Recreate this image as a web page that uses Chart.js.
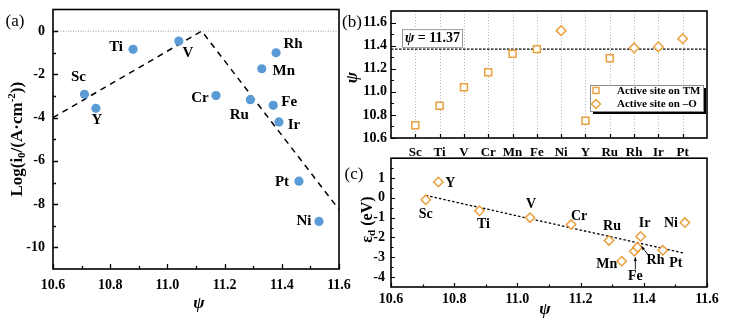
<!DOCTYPE html>
<html>
<head>
<meta charset="utf-8">
<script src="https://cdn.jsdelivr.net/npm/chart.js@4.4.1/dist/chart.umd.min.js"></script>
<style>
  html, body { margin: 0; padding: 0; background: #fff; }
  #wrap { position: relative; width: 733px; height: 327px; overflow: hidden; background: #fff; }
  canvas { position: absolute; }
</style>
</head>
<body>
<div id="wrap">
  <canvas id="panelA" width="365" height="327" style="left:0;top:0"></canvas>
  <canvas id="panelB" width="393" height="158" style="left:340px;top:0"></canvas>
  <canvas id="panelC" width="393" height="177" style="left:340px;top:150px"></canvas>
</div>
<script>
// Transition-metal dopants, in the order of the category axis of (b)
const elements = ['Sc', 'Ti', 'V', 'Cr', 'Mn', 'Fe', 'Ni', 'Y', 'Ru', 'Rh', 'Ir', 'Pt'];
// descriptor ψ of each dopant
const psi = [10.71, 10.88, 11.04, 11.17, 11.33, 11.37, 11.53, 10.75, 11.29, 11.38, 11.39, 11.46];
// log of the exchange current density, log(i0 / (A·cm^-2))
const logI0 = [-2.92, -0.84, -0.46, -2.98, -1.74, -3.43, -8.80, -3.57, -3.17, -1.00, -4.20, -6.94];
// d-band centre εd (eV)
const epsD = [-0.10, -0.65, -1.00, -1.35, -3.20, -2.70, -1.25, 0.80, -2.15, -2.50, -1.95, -2.65];
// dopants whose active site is the lattice oxygen (the rest sit on the TM)
const oxygenSite = ['Ni', 'Rh', 'Ir', 'Pt'];
// volcano guide of (a)
const volcanoPsi = [10.60, 11.12, 11.60];
const volcanoLog = [-4.00, 0.00, -8.25];
// linear trend of (c)
const trendPsi = [10.71, 11.53];
const trendEps = [0.12, -2.80];
// optimum ψ of (b) and the zero level of (a)
const psiThreshold = 11.37;
const zeroLevel = 0;
// tick labels
const psiTicks = [10.6, 10.8, 11.0, 11.2, 11.4, 11.6];
const logTicks = [0, -2, -4, -6, -8, -10];
const psiLevelTicks = [10.6, 10.8, 11.0, 11.2, 11.4, 11.6];
const epsTicks = [1, 0, -1, -2, -3, -4];

// ---- styling ----
const SERIF = "'Liberation Serif', 'Times New Roman', serif";
const BLUE = 'rgb(91,155,213)';
const ORANGE = 'rgb(234,160,62)';
const labelPosA = { Sc: [-6, -17], Ti: [-17, -2], V: [9, 12], Cr: [-16, 3], Mn: [22, 2], Fe: [16, -3],
                    Ni: [-15, 0], Y: [1, 12], Ru: [-11, 15], Rh: [17, -9], Ir: [15, 3], Pt: [-17, 1] };
const labelPosC = { Sc: [0, 15], Ti: [4, 14], V: [1, -13], Cr: [8, -8], Mn: [-15, 3], Fe: [1, 25],
                    Ni: [-14, 1], Y: [12, 1], Ru: [3, -14], Rh: [18, 13], Ir: [4, -13], Pt: [13, 13] };
const arrowsC = { Fe: [[1, 18], [1, 6]], Rh: [[11, 8], [4, -1]] };

function stepValues(from, to, step) {
  const out = [];
  const n = Math.round((to - from) / step);
  for (let k = 0; k <= n; k++) out.push(+(from + k * step).toFixed(4));
  return out;
}

function axis(pos, min, max, ticks, fmt, size, pad, fontSize) {
  return {
    type: 'linear', position: pos, min: min, max: max,
    grid: { display: false, drawTicks: false },
    border: { display: false },
    afterBuildTicks: s => { s.ticks = ticks.map(v => ({ value: v })); },
    afterFit: s => {
      if (pos === 'bottom') s.height = size; else s.width = size;
      // the frame sets the plot area, not the label overhang
      s.paddingTop = 0; s.paddingBottom = 0; s.paddingLeft = 0; s.paddingRight = 0;
    },
    ticks: { autoSkip: false, maxRotation: 0, minRotation: 0, padding: pad, color: '#000',
             font: { family: SERIF, weight: 'bold', size: fontSize }, callback: fmt }
  };
}

function inwardTicks(ctx, chart, id, values, len) {
  const a = chart.chartArea, s = chart.scales[id];
  ctx.beginPath();
  values.forEach(v => {
    const p = Math.round(s.getPixelForValue(v)) + 0.5;
    if (id === 'x') { ctx.moveTo(p, a.bottom); ctx.lineTo(p, a.bottom - len); }
    else { ctx.moveTo(a.left, p); ctx.lineTo(a.left + len, p); }
  });
  ctx.stroke();
}

function frame(ctx, chart) {
  const a = chart.chartArea;
  ctx.strokeStyle = '#000';
  ctx.lineWidth = 1.6;
  ctx.strokeRect(a.left, a.top, a.right - a.left, a.bottom - a.top);
}

// text made of several runs (sub/superscripts), centred on (x, y)
function richText(ctx, parts, x, y, angle) {
  ctx.save();
  ctx.translate(x, y);
  ctx.rotate(angle || 0);
  ctx.textAlign = 'left';
  ctx.textBaseline = 'middle';
  ctx.fillStyle = '#000';
  let total = 0;
  parts.forEach(p => { ctx.font = p.font; p.w = ctx.measureText(p.t).width; total += p.w; });
  let cx = -total / 2;
  parts.forEach(p => { ctx.font = p.font; ctx.fillText(p.t, cx, p.dy || 0); cx += p.w; });
  ctx.restore();
}

function pointLabels(ctx, chart, xs, ys, pos, size) {
  const sx = chart.scales.x, sy = chart.scales.y;
  ctx.fillStyle = '#000';
  ctx.font = 'bold ' + size + 'px ' + SERIF;
  ctx.textAlign = 'center';
  ctx.textBaseline = 'middle';
  elements.forEach((el, i) => {
    const px = sx.getPixelForValue(xs[i]), py = sy.getPixelForValue(ys[i]);
    const o = pos[el];
    ctx.fillText(el, px + o[0], py + o[1]);
  });
}

function arrow(ctx, x1, y1, x2, y2) {
  const ang = Math.atan2(y2 - y1, x2 - x1), h = 4;
  ctx.strokeStyle = '#000';
  ctx.fillStyle = '#000';
  ctx.lineWidth = 0.9;
  ctx.beginPath(); ctx.moveTo(x1, y1); ctx.lineTo(x2, y2); ctx.stroke();
  ctx.beginPath();
  ctx.moveTo(x2, y2);
  ctx.lineTo(x2 - h * Math.cos(ang - 0.4), y2 - h * Math.sin(ang - 0.4));
  ctx.lineTo(x2 - h * Math.cos(ang + 0.4), y2 - h * Math.sin(ang + 0.4));
  ctx.closePath(); ctx.fill();
}

function decor(name, under, over) {
  return {
    id: 'decor' + name,
    beforeDatasetsDraw(chart) { if (under) { chart.ctx.save(); under(chart.ctx, chart); chart.ctx.restore(); } },
    afterDatasetsDraw(chart) { chart.ctx.save(); over(chart.ctx, chart); chart.ctx.restore(); }
  };
}

const common = {
  responsive: false,
  animation: false,
  events: [],
  plugins: { legend: { display: false }, tooltip: { enabled: false } }
};

// ---------- (a) volcano: log(i0) versus ψ ----------
new Chart(document.getElementById('panelA'), {
  type: 'scatter',
  data: {
    datasets: [
      { data: psi.map((x, i) => ({ x: x, y: logI0[i] })), pointStyle: 'circle', pointRadius: 4.6,
        backgroundColor: BLUE, borderWidth: 0, order: 0 },
      { data: volcanoPsi.map((x, i) => ({ x: x, y: volcanoLog[i] })), showLine: true, pointRadius: 0,
        borderColor: '#000', borderWidth: 1.5, borderDash: [6, 5], fill: false, order: 1 }
    ]
  },
  options: Object.assign({}, common, {
    layout: { padding: { left: 0, top: 9.5, right: 26, bottom: 0 } },
    scales: {
      x: axis('bottom', 10.6, 11.6, psiTicks, v => v.toFixed(1), 58, 8, 14),
      y: axis('left', -11, 1, logTicks, v => String(v), 53, 8, 14)
    }
  }),
  plugins: [decor('A',
    (ctx, chart) => {
      const a = chart.chartArea, y0 = chart.scales.y.getPixelForValue(zeroLevel);
      ctx.strokeStyle = '#999'; ctx.lineWidth = 1; ctx.setLineDash([1, 1.5]);
      ctx.beginPath(); ctx.moveTo(a.left, y0); ctx.lineTo(a.right, y0); ctx.stroke();
    },
    (ctx, chart) => {
      frame(ctx, chart);
      ctx.lineWidth = 1.3;
      inwardTicks(ctx, chart, 'x', psiTicks, 5);
      inwardTicks(ctx, chart, 'x', stepValues(10.7, 11.5, 0.2), 3);
      inwardTicks(ctx, chart, 'y', logTicks, 5);
      inwardTicks(ctx, chart, 'y', stepValues(-9, -1, 2), 3);
      pointLabels(ctx, chart, psi, logI0, labelPosA, 15);
      const a = chart.chartArea;
      const b = 'bold 17px ' + SERIF, s = 'bold 11px ' + SERIF;
      richText(ctx, [
        { t: 'Log(i', font: b }, { t: '0', font: s, dy: 4 }, { t: '/(A·cm', font: b },
        { t: '-2', font: s, dy: -6 }, { t: '))', font: b }
      ], 18, (a.top + a.bottom) / 2, -Math.PI / 2);
      richText(ctx, [{ t: 'ψ', font: 'italic bold 17px ' + SERIF }], (a.left + a.right) / 2 + 3, 304, 0);
      richText(ctx, [{ t: '(a)', font: '17px ' + SERIF }], 15, 22, 0);
    })]
});

// ---------- (b) ψ of each dopant ----------
const onTM = [], onO = [];
elements.forEach((el, i) => {
  (oxygenSite.includes(el) ? onO : onTM).push({ x: i + 1, y: psi[i] });
});
const catTicks = elements.map((_, i) => i + 1);

new Chart(document.getElementById('panelB'), {
  type: 'scatter',
  data: {
    datasets: [
      { label: 'Active site on TM', data: onTM, pointStyle: 'rect', pointRadius: 4.9,
        backgroundColor: '#fff', borderColor: ORANGE, borderWidth: 1.5 },
      { label: 'Active site on –O', data: onO, pointStyle: 'rectRot', pointRadius: 4.8,
        backgroundColor: '#fff', borderColor: ORANGE, borderWidth: 1.5 }
    ]
  },
  options: Object.assign({}, common, {
    layout: { padding: { left: 0, top: 11, right: 26, bottom: 0 } },
    scales: {
      x: axis('bottom', 0, 13, catTicks, v => elements[v - 1], 20, 7, 13),
      y: axis('left', 10.6, 11.7, psiLevelTicks, v => v.toFixed(1), 51, 4, 14)
    }
  }),
  plugins: [decor('B',
    (ctx, chart) => {
      const a = chart.chartArea, sx = chart.scales.x;
      ctx.strokeStyle = '#b5b5b5'; ctx.lineWidth = 1; ctx.setLineDash([1, 2]);
      ctx.beginPath();
      catTicks.forEach(v => {
        const p = Math.round(sx.getPixelForValue(v)) + 0.5;
        ctx.moveTo(p, a.top); ctx.lineTo(p, a.bottom);
      });
      ctx.stroke();
      const yt = chart.scales.y.getPixelForValue(psiThreshold);
      ctx.strokeStyle = '#000'; ctx.lineWidth = 1.3; ctx.setLineDash([2.5, 1.5]);
      ctx.beginPath(); ctx.moveTo(a.left, yt); ctx.lineTo(a.right, yt); ctx.stroke();
      ctx.setLineDash([]);
      // label of the optimum
      const bx = a.left + 11, by = yt - 20;
      ctx.fillStyle = '#fff'; ctx.fillRect(bx, by, 60, 18);
      ctx.strokeStyle = '#9a9a9a'; ctx.lineWidth = 1; ctx.strokeRect(bx + 0.5, by + 0.5, 60, 18);
      richText(ctx, [
        { t: 'ψ', font: 'italic bold 14px ' + SERIF }, { t: ' = ' + psiThreshold.toFixed(2), font: 'bold 14px ' + SERIF }
      ], bx + 30.5, by + 9.5, 0);
    },
    (ctx, chart) => {
      frame(ctx, chart);
      ctx.lineWidth = 1.2;
      inwardTicks(ctx, chart, 'x', catTicks, 4);
      inwardTicks(ctx, chart, 'y', psiLevelTicks, 5);
      inwardTicks(ctx, chart, 'y', stepValues(10.7, 11.5, 0.2), 3);
      // legend
      const a = chart.chartArea;
      const lx = a.right - 117, ly = a.top + 74, lw = 113, lh = 26;
      ctx.fillStyle = '#000'; ctx.fillRect(lx + 3, ly + 3, lw, lh);
      ctx.fillStyle = '#fff'; ctx.fillRect(lx, ly, lw, lh);
      ctx.strokeStyle = '#8c8c8c'; ctx.lineWidth = 1; ctx.strokeRect(lx + 0.5, ly + 0.5, lw, lh);
      ctx.strokeStyle = ORANGE; ctx.lineWidth = 1.4;
      ctx.strokeRect(lx + 3, ly + 2.5, 6, 6);
      const dx = lx + 6, dy = ly + 19;
      ctx.beginPath(); ctx.moveTo(dx - 4.5, dy); ctx.lineTo(dx, dy - 4.5); ctx.lineTo(dx + 4.5, dy);
      ctx.lineTo(dx, dy + 4.5); ctx.closePath(); ctx.stroke();
      ctx.fillStyle = '#000'; ctx.font = 'bold 11px ' + SERIF;
      ctx.textAlign = 'left'; ctx.textBaseline = 'middle';
      chart.data.datasets.forEach((d, k) => ctx.fillText(d.label, lx + 27, ly + 6 + k * 13));
      // titles
      richText(ctx, [{ t: 'ψ', font: 'italic bold 17px ' + SERIF }], 13, (a.top + a.bottom) / 2 + 3, -Math.PI / 2);
      richText(ctx, [{ t: '(b)', font: '17px ' + SERIF }], 12, 23, 0);
    })]
});

// ---------- (c) εd versus ψ ----------
new Chart(document.getElementById('panelC'), {
  type: 'scatter',
  data: {
    datasets: [
      { data: psi.map((x, i) => ({ x: x, y: epsD[i] })), pointStyle: 'rectRot', pointRadius: 4.7,
        backgroundColor: '#fff', borderColor: ORANGE, borderWidth: 1.5, order: 0 },
      { data: trendPsi.map((x, i) => ({ x: x, y: trendEps[i] })), showLine: true, pointRadius: 0,
        borderColor: '#000', borderWidth: 1.3, borderDash: [2.5, 2], fill: false, order: 1 }
    ]
  },
  options: Object.assign({}, common, {
    layout: { padding: { left: 0, top: 8.2, right: 26, bottom: 0 } },
    scales: {
      x: axis('bottom', 10.6, 11.6, psiTicks, v => v.toFixed(1), 40, 4, 14),
      y: axis('left', -4.5, 2, epsTicks, v => String(v), 51, 6, 14)
    }
  }),
  plugins: [decor('C', null,
    (ctx, chart) => {
      frame(ctx, chart);
      ctx.lineWidth = 1.2;
      inwardTicks(ctx, chart, 'x', psiTicks, 4);
      inwardTicks(ctx, chart, 'x', stepValues(10.7, 11.5, 0.2), 2.5);
      inwardTicks(ctx, chart, 'y', epsTicks, 4);
      inwardTicks(ctx, chart, 'y', stepValues(-3.5, 1.5, 1), 2.5);
      pointLabels(ctx, chart, psi, epsD, labelPosC, 14);
      const sx = chart.scales.x, sy = chart.scales.y;
      Object.keys(arrowsC).forEach(el => {
        const i = elements.indexOf(el);
        const px = sx.getPixelForValue(psi[i]), py = sy.getPixelForValue(epsD[i]);
        const [p1, p2] = arrowsC[el];
        arrow(ctx, px + p1[0], py + p1[1], px + p2[0], py + p2[1]);
      });
      const a = chart.chartArea;
      const b = 'bold 16px ' + SERIF;
      richText(ctx, [
        { t: 'ε', font: b }, { t: 'd', font: 'bold 11px ' + SERIF, dy: 4 }, { t: ' (eV)', font: b }
      ], 28, (a.top + a.bottom) / 2 - 3, -Math.PI / 2);
      richText(ctx, [{ t: 'ψ', font: 'italic bold 17px ' + SERIF }], (a.left + a.right) / 2 - 4, 160, 0);
      richText(ctx, [{ t: '(c)', font: '17px ' + SERIF }], 14, 25, 0);
    })]
});
</script>
</body>
</html>
